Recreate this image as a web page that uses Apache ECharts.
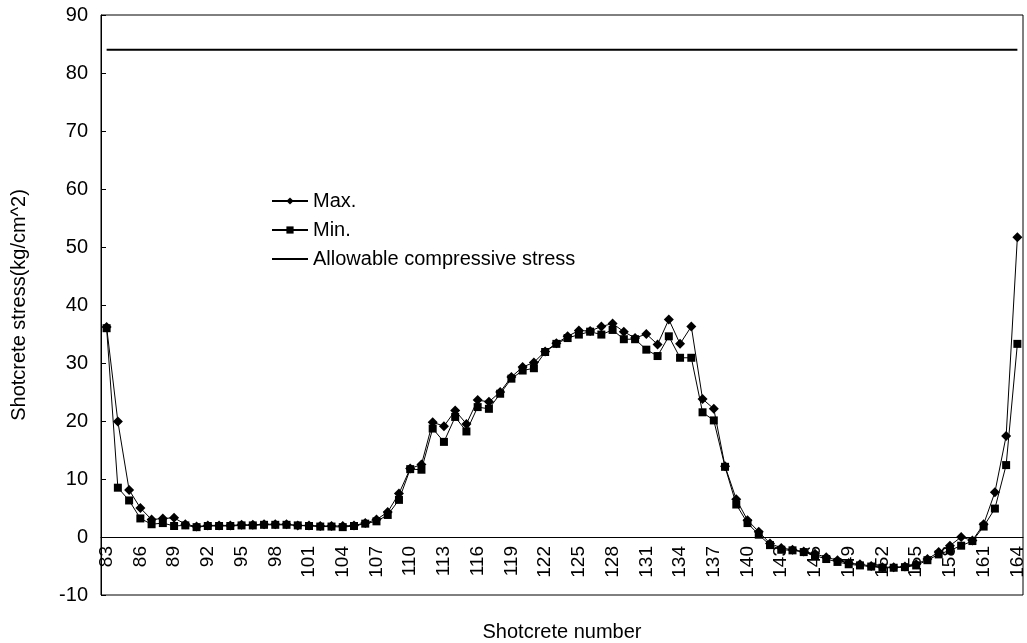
<!DOCTYPE html>
<html>
<head>
<meta charset="utf-8">
<script src="https://cdn.jsdelivr.net/npm/echarts@6/dist/echarts.min.js"></script>
<style>html,body{margin:0;padding:0;background:#fff}#c{width:1027px;height:643px}</style>
</head>
<body>
<div id="c"></div>
<script>
const categories = ['83','84','85','86','87','88','89','90','91','92','93','94','95','96','97','98','99','100','101','102','103','104','105','106','107','108','109','110','111','112','113','114','115','116','117','118','119','120','121','122','123','124','125','126','127','128','129','130','131','132','133','134','135','136','137','138','139','140','141','142','143','144','145','146','147','148','149','150','151','152','153','154','155','156','157','158','159','160','161','162','163','164'];

const maxStress = [36.2,19.9,8.1,5.0,3.0,3.2,3.3,2.2,1.8,2.0,2.0,2.0,2.1,2.1,2.2,2.2,2.2,2.0,2.0,1.9,1.9,1.9,2.0,2.4,3.0,4.3,7.5,11.8,12.5,19.8,19.1,21.8,19.5,23.6,23.3,25.0,27.6,29.3,30.1,32.0,33.4,34.6,35.6,35.5,36.3,36.8,35.4,34.3,35.0,33.2,37.5,33.3,36.3,23.8,22.1,12.2,6.5,2.9,0.9,-1.1,-1.9,-2.2,-2.5,-2.9,-3.5,-4.0,-4.5,-4.7,-5.0,-5.2,-5.2,-5.1,-4.7,-3.8,-2.6,-1.5,0.0,-0.6,2.2,7.7,17.4,51.7];

const minStress = [36.0,8.5,6.3,3.2,2.2,2.4,1.9,2.0,1.7,1.9,1.9,1.9,2.0,2.0,2.1,2.1,2.1,2.0,1.9,1.8,1.8,1.7,1.9,2.3,2.7,3.8,6.4,11.7,11.6,18.7,16.4,20.7,18.2,22.4,22.1,24.7,27.3,28.7,29.1,31.9,33.3,34.3,34.9,35.4,34.9,35.7,34.1,34.1,32.3,31.2,34.6,30.9,30.9,21.5,20.1,12.1,5.6,2.4,0.4,-1.4,-2.2,-2.3,-2.6,-3.2,-3.8,-4.3,-4.7,-4.9,-5.1,-5.3,-5.3,-5.2,-4.9,-4.0,-3.0,-2.3,-1.5,-0.7,1.8,4.9,12.4,33.3];

const allowableValue = 84;
const allowable = categories.map(() => allowableValue);

const yTicks = { min: -10, max: 90, interval: 10 };

const gridTop = 15, gridBottom = 48, chartHeight = 643;
const plotHeight = chartHeight - gridTop - gridBottom;
const zeroOffset = -plotHeight * (0 - yTicks.min) / (yTicks.max - yTicks.min);

const font = "'Liberation Sans', Arial, sans-serif";
const chart = echarts.init(document.getElementById('c'), null, { renderer: 'canvas' });
chart.setOption({
  animation: false,
  backgroundColor: '#fff',
  textStyle: { fontFamily: font, color: '#000' },
  grid: { left: 101, right: 4, top: gridTop, bottom: gridBottom, show: true, borderColor: '#000', borderWidth: 1, containLabel: false, outerBoundsMode: 'none' },
  legend: {
    orient: 'vertical',
    left: 266,
    top: 186,
    itemWidth: 36,
    itemHeight: 9,
    itemGap: 9,
    textStyle: { fontFamily: font, fontSize: 20, color: '#000' },
    data: [
      { name: 'Max.' },
      { name: 'Min.' },
      { name: 'Allowable compressive stress', itemStyle: { opacity: 0 } }
    ]
  },
  xAxis: {
    type: 'category',
    data: categories,
    boundaryGap: true,
    position: 'bottom',
    offset: zeroOffset,
    name: 'Shotcrete number',
    nameLocation: 'middle',
    nameGap: 85,
    nameTextStyle: { fontFamily: font, fontSize: 20, color: '#000' },
    axisLine: { onZero: false, lineStyle: { color: '#000', width: 1 } },
    axisTick: { inside: true, interval: 0, length: 4, lineStyle: { color: '#000' } },
    axisLabel: { interval: 2, rotate: 90, margin: 9, fontFamily: font, fontSize: 19, color: '#000' },
    splitLine: { show: false }
  },
  yAxis: {
    type: 'value',
    min: yTicks.min,
    max: yTicks.max,
    interval: yTicks.interval,
    name: 'Shotcrete stress(kg/cm^2)',
    nameLocation: 'middle',
    nameGap: 72,
    nameTextStyle: { fontFamily: font, fontSize: 20, color: '#000' },
    axisLine: { show: true, lineStyle: { color: '#000' } },
    axisTick: { show: true, inside: true, length: 5, lineStyle: { color: '#000' } },
    axisLabel: { fontFamily: font, fontSize: 20, color: '#000', margin: 13 },
    splitLine: { show: false }
  },
  series: [
    {
      name: 'Max.', type: 'line', data: maxStress,
      symbol: 'diamond', symbolSize: 10, showAllSymbol: true,
      itemStyle: { color: '#000' }, lineStyle: { color: '#000', width: 1 }
    },
    {
      name: 'Min.', type: 'line', data: minStress,
      symbol: 'rect', symbolSize: 8, showAllSymbol: true,
      itemStyle: { color: '#000' }, lineStyle: { color: '#000', width: 1 }
    },
    {
      name: 'Allowable compressive stress', type: 'line', data: allowable,
      symbol: 'none',
      itemStyle: { color: '#000' }, lineStyle: { color: '#000', width: 2 }
    }
  ]
});
</script>
</body>
</html>
